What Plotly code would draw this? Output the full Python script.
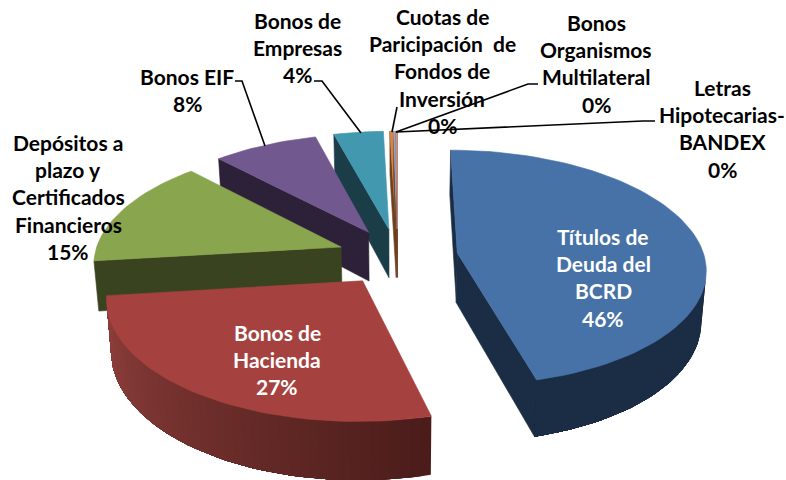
import math
import plotly.graph_objects as go

# ---- data ----
categories = ["Títulos de<br>Deuda del<br>BCRD", "Bonos de<br>Hacienda",
              "Depósitos a<br>plazo y<br>Certificados<br>Financieros", "Bonos EIF",
              "Bonos de<br>Empresas", "Cuotas de<br>Paricipación  de<br>Fondos de<br>Inversión",
              "Bonos<br>Organismos<br>Multilateral", "Letras<br>Hipotecarias-<br>BANDEX"]
values = [45.9, 27.2, 14.8, 7.9, 3.72, 0.23, 0.15, 0.10]
percent_labels = ["46%", "27%", "15%", "8%", "4%", "0%", "0%", "0%"]
top_colors = ["#4672A7", "#A5423F", "#89A54E", "#71588F", "#4198AF", "#DB843D", "#93A9CF", "#D19392"]
wall_colors = ["#1B2D45", "#4A1C1A", "#3A431F", "#2C2139", "#1A3D47", "#6D4020", "#6D4020", "#6D4020"]
rim_far_colors = ["#1F3350", "#90403C", "#3A431F", "#2C2139", "#1A3D47", "#6D4020", "#6D4020", "#6D4020"]
text_colors = ["white", "white", "black", "black", "black", "black", "black", "black"]
# label centre x and y of its first line, line pitch
label_x = [603, 277, 68, 187, 297, 442, 596, 722]
label_y = [236, 332, 142, 76, 20, 16, 22, 87]
line_pitch = 27.4

# projection constants
CX, CY = 397.5, 256.6
B, A, K = 247.0, 116.5, 0.125
EXPLODE = 0.245
DEPTH = 50.0
Z_TAPER = 0.016
FONT = "Lato"


def project(x, y, z=0.0):
    s = 1.0 / (1.0 + K * y)
    return (CX + B * x * s * (1 - Z_TAPER * z), CY - A * y * s + DEPTH * s * z)


def hex_rgb(h):
    return tuple(int(h[i:i + 2], 16) for i in (1, 3, 5))


def mix(a, b, t):
    ra, rb = hex_rgb(a), hex_rgb(b)
    return "rgb(%d,%d,%d)" % tuple(round(p + (q - p) * t) for p, q in zip(ra, rb))


def area(pts):
    return sum(pts[i][0] * pts[(i + 1) % len(pts)][1] - pts[(i + 1) % len(pts)][0] * pts[i][1]
               for i in range(len(pts)))


def poly(fig, pts, color, width=0.6):
    fig.add_trace(go.Scatter(x=[p[0] for p in pts] + [pts[0][0]], y=[p[1] for p in pts] + [pts[0][1]],
                             mode="lines", fill="toself", fillcolor=color,
                             line=dict(color=color, width=width), hoverinfo="skip", showlegend=False))


fig = go.Figure()
total = sum(values)
edges = [0.0]
for v in values:
    edges.append(edges[-1] + v / total * 2 * math.pi)

# painter's order: back slices first
order = [4, 5, 6, 7, 3, 2, 0, 1]
for i in order:
    t0, t1 = edges[i], edges[i + 1]
    mid = (t0 + t1) / 2
    ox, oy = EXPLODE * math.sin(mid), EXPLODE * math.cos(mid)
    n = max(2, int((t1 - t0) / math.radians(2)))
    arc = [(ox + math.sin(t0 + (t1 - t0) * j / n), oy + math.cos(t0 + (t1 - t0) * j / n)) for j in range(n + 1)]
    apex = (ox, oy)
    wall = wall_colors[i]
    # radial walls, only when they face the viewer
    for a_, b_ in ((apex, arc[0]), (arc[-1], apex)):
        q = [project(*a_), project(*b_), project(*b_, 1), project(*a_, 1)]
        if area(q) < 0:
            poly(fig, q, wall)
    # rim: each band reaches to the end of the visible arc so no seams show
    vis = [j for j in range(n)
           if area([project(*arc[j]), project(*arc[j + 1]), project(*arc[j + 1], 1), project(*arc[j], 1)]) < 0]
    for j in vis:
        span = arc[j:vis[-1] + 2]
        q = [project(*p) for p in span] + [project(*p, 1) for p in reversed(span)]
        th = math.degrees(t0 + (t1 - t0) * (j + .5) / n)
        f = min(1, max(0, (th - 165) / 95))
        poly(fig, q, mix(wall, rim_far_colors[i], f), width=0)
    poly(fig, [project(*apex)] + [project(*p) for p in arc], top_colors[i])

# leader lines
leaders = [[(235, 81), (242, 81), (265, 146)],
           [(314, 81), (322, 81), (361, 133)],
           [(397, 107), (392, 132)],
           [(538, 84), (528, 84), (396, 132)],
           [(655, 121), (643, 121), (396, 132)]]
for ln in leaders:
    fig.add_trace(go.Scatter(x=[p[0] for p in ln], y=[p[1] for p in ln], mode="lines",
                             line=dict(color="black", width=1.6), hoverinfo="skip", showlegend=False))

# labels, one annotation per line to keep the line pitch
for i, cat in enumerate(categories):
    lines = cat.split("<br>") + [percent_labels[i]]
    for k, txt in enumerate(lines):
        fig.add_annotation(x=label_x[i], y=label_y[i] + k * line_pitch, text=txt, showarrow=False,
                           xanchor="center", yanchor="middle",
                           font=dict(family=FONT, size=21, color=text_colors[i], weight=700))

fig.update_layout(width=786, height=480, autosize=False, margin=dict(l=0, r=0, t=0, b=0),
                  paper_bgcolor="white", plot_bgcolor="white", showlegend=False,
                  xaxis=dict(range=[0, 786], visible=False, fixedrange=True),
                  yaxis=dict(range=[480, 0], visible=False, fixedrange=True))
fig.write_html("out.html", config=dict(displayModeBar=False),
               post_script="document.body.style.margin='0';document.body.style.overflow='hidden';")
